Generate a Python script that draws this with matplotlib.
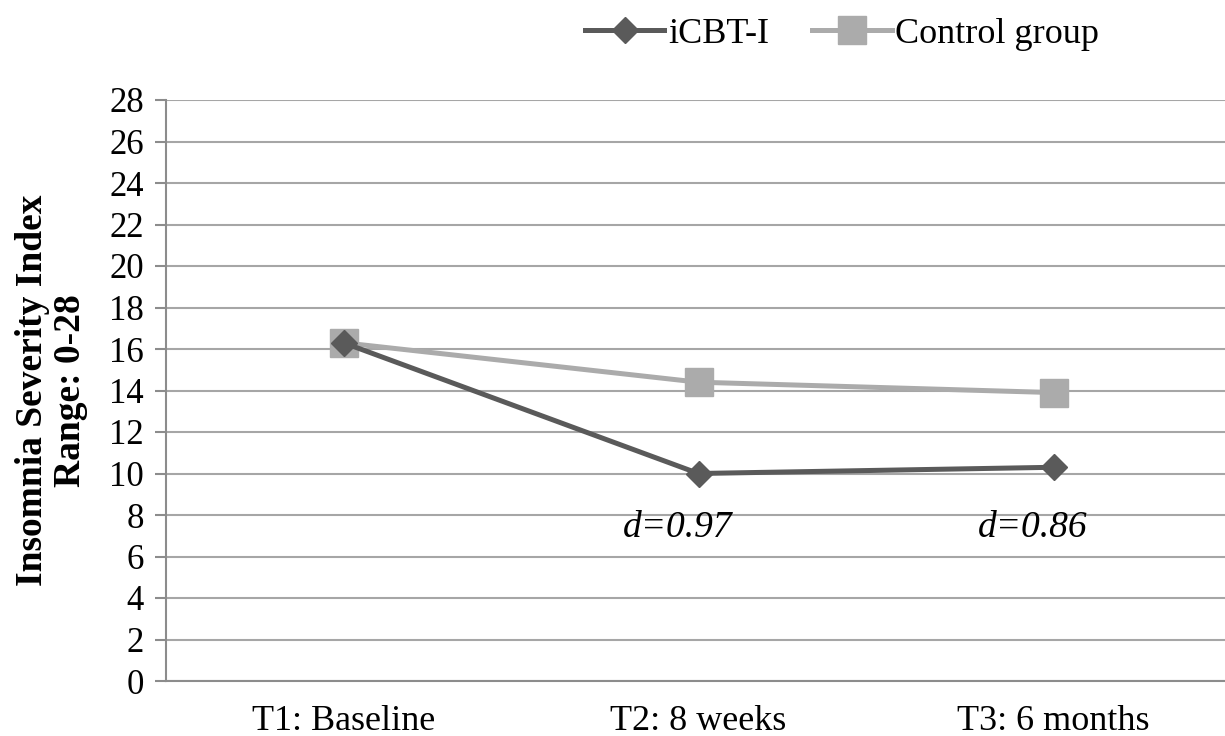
import matplotlib
matplotlib.use("Agg")
import matplotlib.pyplot as plt

timepoints = ["T1: Baseline", "T2: 8 weeks", "T3: 6 months"]
icbt = [16.3, 10.0, 10.3]
control = [16.3, 14.4, 13.9]
effect_sizes = ["d=0.97", "d=0.86"]
effect_y = 7.4
y_ticks = list(range(0, 29, 2))

plt.rcParams["font.family"] = ["Liberation Serif", "DejaVu Serif"]

fig = plt.figure(figsize=(12.25, 7.36), dpi=100)
ax = fig.add_axes([166 / 1225, 55 / 736, 1065 / 1225, 581 / 736])

x = list(range(len(timepoints)))
ax.plot(x, control, color="#ABABAB", lw=3.6, marker="s", ms=20,
        label="Control group", zorder=3)
ax.plot(x, icbt, color="#5A5A5A", lw=3.6, marker="D", ms=13.7,
        label="iCBT-I", zorder=4)

for i, txt in enumerate(effect_sizes):
    ax.text(i + 1 - 0.06, effect_y, txt, style="italic", fontsize=27,
            ha="center", va="center")

ax.set_xlim(-0.5, 2.5)
ax.set_ylim(0, 28)
ax.set_yticks(y_ticks)
ax.set_xticks(x)
ax.set_xticklabels(timepoints)
ax.grid(axis="y", color="#A6A6A6", lw=1.5)
ax.set_axisbelow(True)
for s in ["top", "right"]:
    ax.spines[s].set_visible(False)
for s in ["left", "bottom"]:
    ax.spines[s].set_color("#8C8C8C")
    ax.spines[s].set_linewidth(1.5)
ax.tick_params(axis="y", length=8, width=1.5, color="#8C8C8C",
               labelsize=25, pad=8)
ax.tick_params(axis="x", length=0, labelsize=26, pad=17)

ax.set_ylabel("Insomnia Severity Index\nRange: 0-28", fontsize=27,
              fontweight="bold", linespacing=1.12)
ax.yaxis.set_label_coords(-0.073, 0.5)

handles, labels = ax.get_legend_handles_labels()
fig.legend(handles[::-1], labels[::-1], loc="center", ncol=2,
           bbox_to_anchor=(842 / 1225, 1 - 34 / 736), frameon=False,
           fontsize=26, handlelength=2.2, handletextpad=0.1,
           columnspacing=1.2, borderpad=0)

fig.savefig("out.png", dpi=100)
